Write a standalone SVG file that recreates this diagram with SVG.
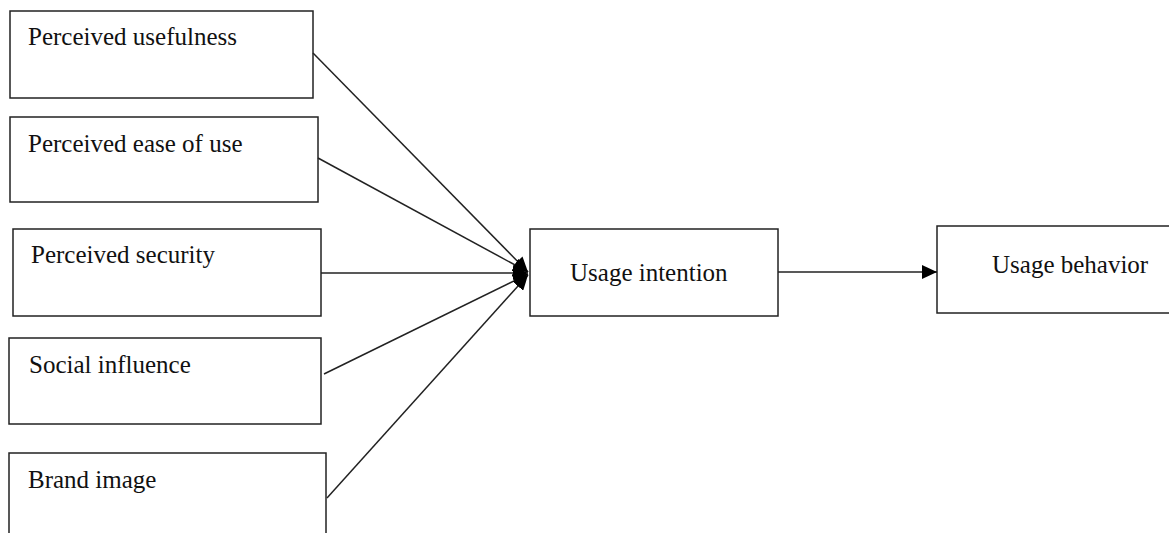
<svg xmlns="http://www.w3.org/2000/svg" width="1169" height="533" viewBox="0 0 1169 533">
<style>
.box{fill:#fff;stroke:#222;stroke-width:1.5}
.lbl{font-family:'Liberation Serif','Times New Roman','DejaVu Serif',serif;font-size:25px;fill:#111}
.conn{stroke:#222;stroke-width:1.5;fill:none}
</style>
<defs>
<marker id="ah" markerWidth="16" markerHeight="14" refX="15" refY="7" orient="auto" markerUnits="userSpaceOnUse">
<path d="M0,0 L15,7 L0,14 Z" fill="#000"/>
</marker>
</defs>
<rect width="1169" height="533" fill="#fff"/>
<g id="n1"><rect class="box" x="10" y="11" width="303" height="87"/><text class="lbl" x="28" y="45">Perceived usefulness</text></g>
<g id="n2"><rect class="box" x="10" y="117" width="308" height="85"/><text class="lbl" x="28" y="152">Perceived ease of use</text></g>
<g id="n3"><rect class="box" x="13" y="229" width="308" height="87"/><text class="lbl" x="31" y="263">Perceived security</text></g>
<g id="n4"><rect class="box" x="9" y="338" width="312" height="86"/><text class="lbl" x="29" y="373">Social influence</text></g>
<g id="n5"><rect class="box" x="9" y="453" width="317" height="100"/><text class="lbl" x="28" y="488">Brand image</text></g>
<g id="n6"><rect class="box" x="530" y="229" width="248" height="87"/><text class="lbl" x="570" y="281">Usage intention</text></g>
<g id="n7"><rect class="box" x="937" y="226" width="250" height="87"/><text class="lbl" x="992" y="273">Usage behavior</text></g>
<g id="connectors">
<line class="conn" x1="313" y1="53" x2="528" y2="272" marker-end="url(#ah)"/>
<line class="conn" x1="318" y1="158" x2="528" y2="272" marker-end="url(#ah)"/>
<line class="conn" x1="321" y1="273" x2="528" y2="273" marker-end="url(#ah)"/>
<line class="conn" x1="324" y1="374" x2="528" y2="274" marker-end="url(#ah)"/>
<line class="conn" x1="327" y1="498" x2="528" y2="275" marker-end="url(#ah)"/>
<line class="conn" x1="778" y1="272" x2="937" y2="272" marker-end="url(#ah)"/>
</g>
</svg>
